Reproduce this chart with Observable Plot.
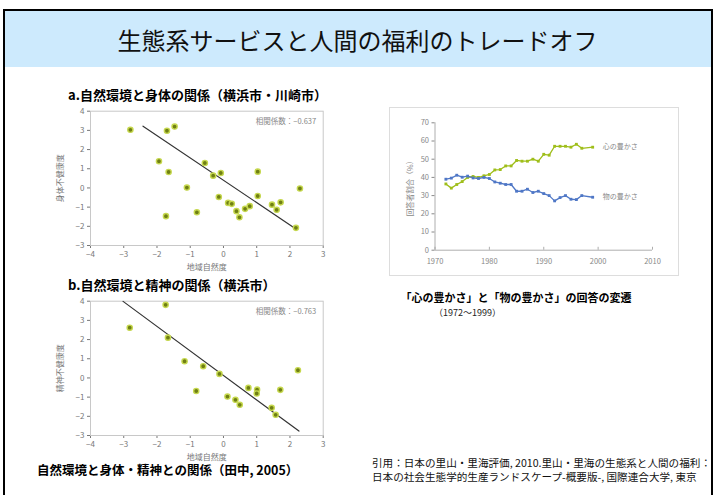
<!DOCTYPE html>
<html><head><meta charset="utf-8">
<script src="https://cdn.jsdelivr.net/npm/d3@7"></script>
<script src="https://cdn.jsdelivr.net/npm/@observablehq/plot@0.6"></script>
<style>
body{margin:0;background:#fff;font-family:"Noto Sans CJK JP","Noto Sans",sans-serif;}
#page{position:relative;width:715px;height:495px;overflow:hidden;background:#fff;}
.abs{position:absolute;white-space:nowrap;}
svg{overflow:visible;}
</style></head><body><div id="page">
<div class="abs" style="left:3px;top:9px;width:706px;height:500px;border:2px solid #000;"></div>
<div class="abs" style="left:5px;top:11px;width:706px;height:56px;background:#cdeafd;"></div>
<div class="abs" style="left:0;width:715px;top:23px;text-align:center;font-size:24px;line-height:34px;color:#111;">生態系サービスと人間の福利のトレードオフ</div>
<div class="abs" style="left:68px;top:86px;font-size:13px;font-weight:bold;line-height:18px;">a.自然環境と身体の関係（横浜市・川崎市）</div>
<div class="abs" style="left:68px;top:276px;font-size:13px;font-weight:bold;line-height:18px;">b.自然環境と精神の関係（横浜市）</div>
<div class="abs" style="left:389px;top:107px;width:288px;height:167px;border:1px solid #ddd;"></div>
<div class="abs" style="left:380px;width:272px;top:289px;text-align:center;font-size:11px;font-weight:bold;line-height:16px;">「心の豊かさ」と「物の豊かさ」の回答の変遷</div>
<div class="abs" style="left:434px;top:307px;font-size:9px;line-height:12px;color:#222;">（1972～1999）</div>
<div class="abs" style="left:37px;top:461px;font-size:12.5px;font-weight:bold;line-height:18px;">自然環境と身体・精神との関係（田中, 2005）</div>
<div class="abs" style="left:372px;top:456px;font-size:10.6px;line-height:14px;color:#111;">引用：日本の里山・里海評価, 2010.里山・里海の生態系と人間の福利：<br>日本の社会生態学的生産ランドスケープ-概要版-, 国際連合大学, 東京</div>
<div id="chartA" class="abs" style="left:40px;top:100px;"></div>
<div id="chartB" class="abs" style="left:40px;top:290px;"></div>
<div id="chartC" class="abs" style="left:389px;top:107px;"></div>
</div>
<script>
// Scatter a: 地域自然度 vs 身体不健康度
const aX = [-2.80,-1.70,-1.47,-1.94,-1.65,-1.73,-1.10,-0.80,-0.56,-0.31,-0.08,-0.14,0.14,0.25,0.39,0.48,0.65,0.79,1.03,1.03,1.46,1.60,1.72,2.18,2.30];
const aY = [3.03,2.98,3.20,1.39,0.83,-1.47,0.02,-1.27,1.30,0.64,0.78,-0.47,-0.78,-0.83,-1.21,-1.53,-1.09,-0.95,0.85,-0.42,-0.87,-1.14,-0.75,-2.08,-0.03];
const aFitX = [-2.42, 2.19];
const aFitY = [3.22, -2.15];
const aCorr = "相関係数：−0.637";
// Scatter b: 地域自然度 vs 精神不健康度
const bX = [-2.82,-1.74,-1.67,-1.17,-0.82,-0.61,-0.12,0.12,0.36,0.49,0.75,1.01,1.00,1.71,1.45,1.57,2.24];
const bY = [2.62,3.81,2.10,0.87,-0.68,0.61,0.21,-0.97,-1.14,-1.40,-0.52,-0.61,-0.81,-0.62,-1.56,-1.92,0.40];
const bFitX = [-3.02, 2.27];
const bFitY = [3.99, -2.77];
const bCorr = "相関係数：−0.763";
const scatterXTicks = [-4,-3,-2,-1,0,1,2,3];
const scatterYTicks = [-3,-2,-1,0,1,2,3,4];
// Line chart: 心の豊かさ / 物の豊かさ
const years = [1972,1973,1974,1975,1976,1977,1978,1979,1980,1981,1982,1983,1984,1985,1986,1987,1988,1989,1990,1991,1992,1993,1994,1995,1996,1997,1999];
const kokoro = [36.4,34.1,36.1,37.7,40.0,40.5,40.0,40.9,41.6,44.1,44.3,46.3,46.3,49.3,48.9,48.9,50.0,48.9,52.7,52.2,57.1,57.1,57.1,56.6,58.2,56.0,56.6];
const mono = [39.0,39.6,41.2,40.1,40.7,39.7,39.4,40.0,39.4,37.5,36.8,36.1,36.1,32.4,32.4,33.5,31.7,32.4,31.1,30.0,27.1,28.9,30.0,28.0,27.8,30.0,29.1];
const seriesNames = ["心の豊かさ","物の豊かさ"];
const lineYTicks = [0,10,20,30,40,50,60,70];
const lineXTicks = [1970,1980,1990,2000,2010];

const font = '"Noto Sans CJK JP","Noto Sans",sans-serif';
const intFmt = d => (d < 0 ? "−" : "") + Math.abs(d);

function scatter(xs, ys, fx, fy, corr, ylabel) {
  const pts = xs.map((x,i)=>({x, y: ys[i]}));
  const fit = fx.map((x,i)=>({x, y: fy[i]}));
  return Plot.plot({
    width: 300, height: 180,
    marginLeft: 50, marginRight: 17.3, marginTop: 10.7, marginBottom: 35,
    style: {fontSize: "8px", color: "#777", fontFamily: font, background: "transparent"},
    x: {domain: [-4,3], ticks: scatterXTicks, tickFormat: intFmt, label: "地域自然度", labelAnchor: "center", labelArrow: "none", labelOffset: 24, tickSize: 3, tickPadding: 3},
    y: {domain: [-3,4], ticks: scatterYTicks, tickFormat: intFmt, label: ylabel, labelAnchor: "center", labelArrow: "none", labelOffset: 33, tickSize: 3, tickPadding: 3},
    marks: [
      Plot.frame({stroke: "#c8c8c8"}),
      Plot.line(fit, {x: "x", y: "y", stroke: "#333", strokeWidth: 1.2}),
      Plot.dot(pts, {x: "x", y: "y", r: 2.6, fill: "#6f7f14", stroke: "#c6d84e", strokeWidth: 1.4}),
      Plot.text([corr], {frameAnchor: "top-right", dx: -7, dy: 7, text: d => d, fill: "#888", fontSize: 7.5})
    ]
  });
}

document.getElementById("chartA").appendChild(scatter(aX, aY, aFitX, aFitY, aCorr, "身体不健康度"));
document.getElementById("chartB").appendChild(scatter(bX, bY, bFitX, bFitY, bCorr, "精神不健康度"));

const rows = [];
years.forEach((yr,i)=>{
  rows.push({year: yr, value: kokoro[i], s: seriesNames[0]});
  rows.push({year: yr, value: mono[i], s: seriesNames[1]});
});
const last = rows.filter(d => d.year === years[years.length-1]);
const colors = {"心の豊かさ": "#9fbe1a", "物の豊かさ": "#4f77c6"};

const lineChart = Plot.plot({
  width: 289, height: 168,
  marginLeft: 45.5, marginRight: 26, marginTop: 15.3, marginBottom: 25.3,
  style: {fontSize: "7.5px", color: "#888", fontFamily: font, background: "transparent"},
  x: {domain: [1970, 2010], ticks: lineXTicks, tickFormat: "d", tickSize: 0, tickPadding: 8, label: null},
  y: {domain: [0, 70], ticks: lineYTicks, tickSize: 3, tickPadding: 3, label: "回答者割合（%）", labelAnchor: "center", labelArrow: "none", labelOffset: 27},
  color: {domain: seriesNames, range: seriesNames.map(s => colors[s])},
  marks: [
    Plot.ruleX([1970], {stroke: "#999", strokeWidth: 0.8}),
    Plot.ruleY([0], {stroke: "#999", strokeWidth: 0.8}),
    Plot.ruleX(lineXTicks, {y1: 0, y2: 1.6, stroke: "#999", strokeWidth: 0.8}),
    Plot.line(rows, {x: "year", y: "value", z: "s", stroke: "s", strokeWidth: 1.3}),
    Plot.dot(rows, {x: "year", y: "value", fill: "s", symbol: "square", r: 1.6}),
    Plot.text(last, {x: "year", y: "value", text: "s", dx: 10, textAnchor: "start", fill: "#888", fontSize: 7})
  ]
});
document.getElementById("chartC").appendChild(lineChart);
</script>
</body></html>
